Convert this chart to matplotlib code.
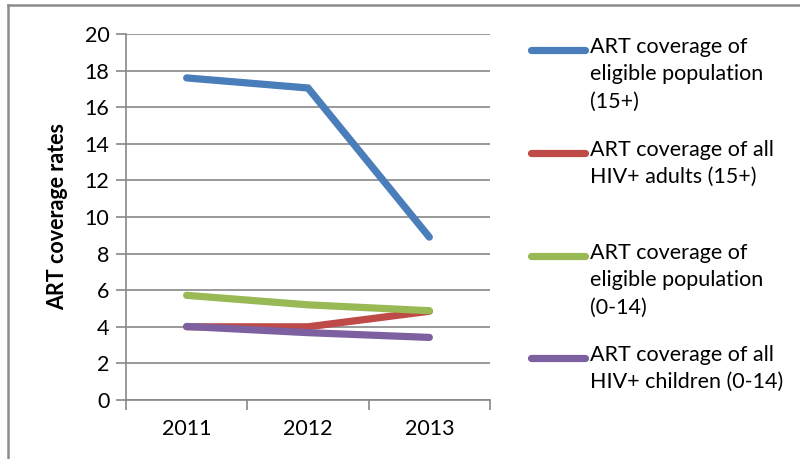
import matplotlib
matplotlib.use("Agg")
import matplotlib.pyplot as plt
from matplotlib.lines import Line2D

years = ["2011", "2012", "2013"]
eligible_adults = [17.6, 17.05, 8.9]
all_adults = [4.0, 4.0, 4.85]
eligible_children = [5.72, 5.2, 4.88]
all_children = [4.02, 3.68, 3.42]

labels = [
    "ART coverage of\neligible population\n(15+)",
    "ART coverage of all\nHIV+ adults (15+)",
    "ART coverage of\neligible population\n(0-14)",
    "ART coverage of all\nHIV+ children (0-14)",
]
colors = ["#4A7EBB", "#BE4B48", "#98B954", "#7D60A0"]
series = [eligible_adults, all_adults, eligible_children, all_children]

plt.rcParams['font.family'] = ['Lato', 'DejaVu Sans']

W, H = 800, 459
fig = plt.figure(figsize=(W / 100, H / 100), dpi=100)

def px(x0, y0, x1, y1):
    return [x0 / W, 1 - y1 / H, (x1 - x0) / W, (y1 - y0) / H]

ax = fig.add_axes(px(126, 34, 490, 400))

xs = range(len(years))
for vals, c in zip(series, colors):
    ax.plot(xs, vals, color=c, lw=5.2, solid_capstyle='round', solid_joinstyle='miter')

gc = "#878787"
fs = 15.5
ax.set_xlim(-0.5, 2.5)
ax.set_ylim(0, 20)
ax.set_yticks(range(0, 21, 2))
ax.set_xticks([-0.5, 0.5, 1.5, 2.5], minor=False)
ax.set_xticklabels([])
ax.set_xticks(list(xs), minor=True)
ax.set_xticklabels(years, minor=True)
ax.tick_params(axis='x', which='major', length=7, width=1.2, color=gc, direction='out')
ax.tick_params(axis='x', which='minor', length=0, labelsize=fs, pad=14)
ax.tick_params(axis='y', length=7, width=1.2, color=gc, direction='out', labelsize=fs, pad=5)
ax.grid(axis='y', color=gc, lw=1.2)
ax.set_axisbelow(True)
for s in ['top', 'right']:
    ax.spines[s].set_visible(False)
for s in ['left', 'bottom']:
    ax.spines[s].set_color(gc)
    ax.spines[s].set_linewidth(1.2)

fig.text(58 / W, 1 - 217 / H, "ART coverage rates", rotation=90, fontsize=fs,
         fontweight='bold', ha='center', va='center')

# legend
tops = [50, 153, 256, 358]
for lab, c, y in zip(labels, colors, tops):
    fig.add_artist(Line2D([531 / W, 585 / W], [1 - y / H, 1 - y / H], color=c, lw=5.2,
                          solid_capstyle='round', transform=fig.transFigure))
    fig.text(590 / W, 1 - (y - 13) / H, lab, fontsize=fs, ha='left', va='top',
             linespacing=1.45)

# chart border (extends beyond the right and bottom edges)
bc = "#8C8C8C"
fig.add_artist(Line2D([8 / W, 8 / W], [0, 1 - 5 / H], color=bc, lw=1.8,
                      transform=fig.transFigure))
fig.add_artist(Line2D([8 / W, 1], [1 - 5 / H, 1 - 5 / H], color=bc, lw=1.8,
                      transform=fig.transFigure))

fig.savefig("out.png", dpi=100)
